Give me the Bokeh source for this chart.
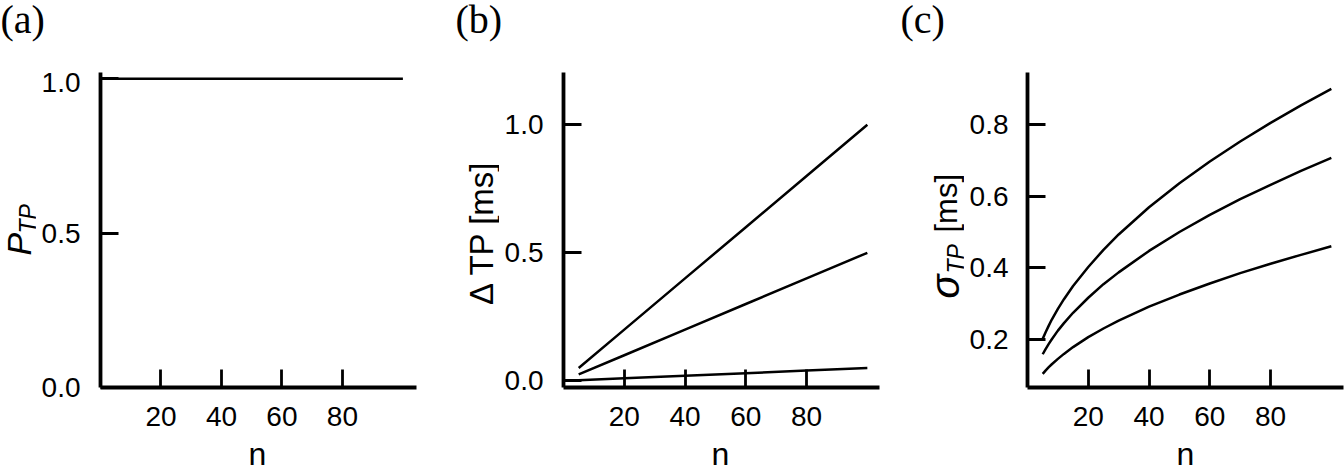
from math import pi
from bokeh.plotting import figure
from bokeh.layouts import row, column
from bokeh.models import Range1d, FixedTicker, PrintfTickFormatter, Label
from bokeh.embed import file_html
from bokeh.resources import INLINE

# ---------------- data ----------------
x_ticks = [20, 40, 60, 80]

n_a = [5, 20, 40, 60, 80, 100]
p_tp = [1.0, 1.0, 1.0, 1.0, 1.0, 1.0]
a_yticks = [0.0, 0.5, 1.0]

n_b = [5, 20, 40, 60, 80, 100]
dtp_1 = [0.05, 0.20, 0.40, 0.60, 0.80, 1.00]
dtp_2 = [0.025, 0.10, 0.20, 0.30, 0.40, 0.50]
dtp_3 = [0.0025, 0.01, 0.02, 0.03, 0.04, 0.05]
b_yticks = [0.0, 0.5, 1.0]

n_c = [5, 6, 7, 8, 10, 12, 15, 20, 25, 30, 40, 50, 60, 70, 80, 90, 100]
sig_1 = [0.201, 0.220, 0.238, 0.255, 0.285, 0.312, 0.349, 0.402, 0.450, 0.493,
         0.569, 0.636, 0.697, 0.753, 0.805, 0.854, 0.900]
sig_2 = [0.158, 0.173, 0.187, 0.200, 0.224, 0.245, 0.274, 0.316, 0.354, 0.387,
         0.447, 0.500, 0.548, 0.592, 0.632, 0.671, 0.707]
sig_3 = [0.103, 0.113, 0.122, 0.130, 0.145, 0.159, 0.178, 0.206, 0.230, 0.252,
         0.291, 0.325, 0.356, 0.385, 0.411, 0.436, 0.460]
c_yticks = [0.2, 0.4, 0.6, 0.8]

W = 1344
PAGE_H = 469
TOP_H = 72          # strip with the panel letters
MID_H = 370         # row with the three panels
BOT_H = 27          # strip with the "n" axis titles
BB = MID_H - 315    # bottom border of each panel
SANS = "Liberation Sans"
SERIF = "Liberation Serif"
BASE_SHIFT = 0.35   # rendered baseline sits this many em below the anchor


def make_fig(width, bl, br, xr, yr, yticks, ystand):
    p = figure(width=width, height=MID_H, output_backend="svg", toolbar_location=None,
               x_range=Range1d(*xr), y_range=Range1d(*yr),
               min_border_left=bl, min_border_right=br,
               min_border_top=0, min_border_bottom=BB)
    p.outline_line_color = None
    p.grid.visible = False
    p.background_fill_color = "white"
    p.border_fill_color = "white"
    for ax in (p.xaxis[0], p.yaxis[0]):
        ax.axis_line_width = 3.8
        ax.axis_line_color = "black"
        ax.major_tick_line_width = 2.8
        ax.major_tick_line_color = "black"
        ax.major_tick_in = 18
        ax.major_tick_out = 0
        ax.minor_tick_line_color = None
        ax.major_label_text_font = SANS
        ax.major_label_text_font_size = "28px"
        ax.major_label_text_color = "black"
    xa = p.xaxis[0]
    xa.ticker = FixedTicker(ticks=x_ticks)
    xa.major_label_standoff = 19
    ya = p.yaxis[0]
    ya.ticker = FixedTicker(ticks=yticks)
    ya.formatter = PrintfTickFormatter(format="%.1f")
    ya.major_label_standoff = ystand
    return p


def blank_fig(width, height, yr, bottom=0):
    f = figure(width=width, height=height, output_backend="svg", toolbar_location=None,
               x_range=Range1d(0, width), y_range=Range1d(*yr),
               min_border_left=0, min_border_right=0, min_border_top=0,
               min_border_bottom=bottom, x_axis_type=None, y_axis_type=None)
    f.outline_line_color = None
    f.grid.visible = False
    f.background_fill_color = "white"
    f.border_fill_color = "white"
    return f


def htext(f, x, base_y, y_top, text, size, style="normal", align="left", font=SANS):
    """Horizontal text; base_y = wanted baseline in page pixels, y_top = page y of strip top."""
    anchor = base_y - BASE_SHIFT * size
    f.add_layout(Label(x=x, y=f.height + y_top - anchor, text=text, text_font=font,
                       text_font_size=f"{size}px", text_font_style=style,
                       text_align=align, text_baseline="alphabetic",
                       text_color="black"))


def vtext(f, x0, base_x, start_y, text, size, style="normal", align="left"):
    """Text reading bottom-to-top; base_x = wanted baseline in page pixels."""
    anchor = base_x - BASE_SHIFT * size
    f.add_layout(Label(x=anchor - x0, y=PAGE_H - start_y, text=text, angle=pi / 2,
                       text_font=SANS, text_font_size=f"{size}px",
                       text_font_style=style, text_align=align,
                       text_baseline="alphabetic", text_color="black"))


def side_fig(width):
    return blank_fig(width, MID_H, (PAGE_H - 387, PAGE_H - 72), bottom=BB)


# ---------------- top strip: panel letters ----------------
top = blank_fig(W, TOP_H, (0, TOP_H))
for x, t in ((0, "(a)"), (455, "(b)"), (900, "(c)")):
    htext(top, x, 33, 0, t, 40, font=SERIF)

# ---------------- panel (a) ----------------
la = side_fig(36)
vtext(la, 0, 30, 255, "P", 34, "italic")
vtext(la, 0, 35.5, 233, "TP", 23, "italic")
pa = make_fig(414, 64, 34, (0, 104.5), (0, 1.02), a_yticks, 20)
pa.line(n_a, p_tp, line_color="black", line_width=2.6)

# ---------------- panel (b) ----------------
lb = side_fig(49)
vtext(lb, 450, 493, 232, "\u0394 TP [ms]", 33, align="center")
pb = make_fig(401, 64, 21, (0, 104), (-0.026, 1.204), b_yticks, 20)
for ys in (dtp_1, dtp_2, dtp_3):
    pb.line(n_b, ys, line_color="black", line_width=2.5)

# ---------------- panel (c) ----------------
lc = side_fig(64)
vtext(lc, 900, 958, 298, "\u03c3", 40, "italic")
vtext(lc, 900, 963.5, 273, "TP", 23, "italic")
vtext(lc, 900, 957, 232, "[ms]", 31)
pc = make_fig(380, 63, 1, (0, 104), (0.065, 0.946), c_yticks, 19)
for ys in (sig_1, sig_2, sig_3):
    pc.line(n_c, ys, line_color="black", line_width=2.5)

# ---------------- bottom strip: x-axis titles ----------------
bot = blank_fig(W, BOT_H, (0, BOT_H))
for cx in (257, 720, 1185):
    htext(bot, cx, 464.5, PAGE_H - BOT_H, "n", 32, align="center")

layout = column(top, row(la, pa, lb, pb, lc, pc), bot)
open("out.html", "w").write(file_html(layout, INLINE))
